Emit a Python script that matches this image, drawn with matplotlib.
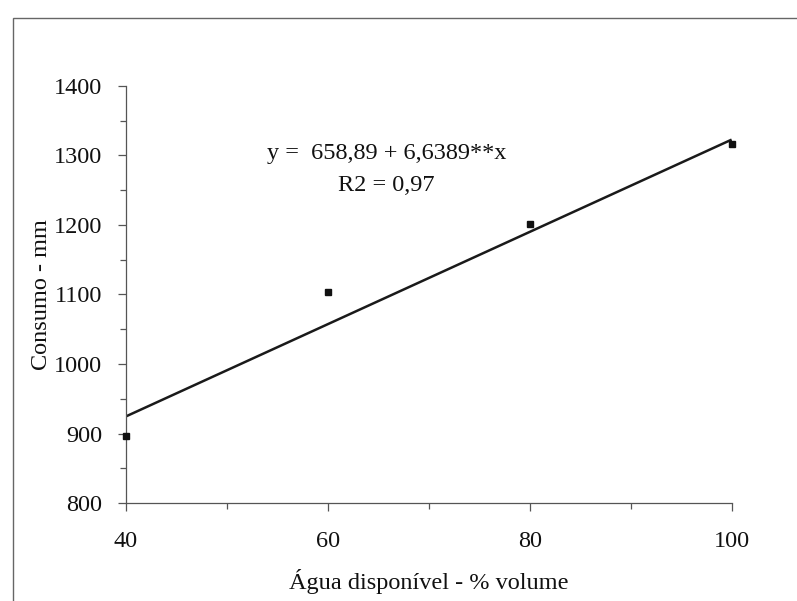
import matplotlib
matplotlib.use("Agg")
import matplotlib.pyplot as plt
from matplotlib.patches import Rectangle
from matplotlib.ticker import MultipleLocator

# dados
agua = [40, 60, 80, 100]
consumo = [896, 1104, 1201, 1316]
a, b = 658.89, 6.6389
x_fit = [40, 100]
y_fit = [a + b * v for v in x_fit]

plt.rcParams["font.family"] = ["Liberation Serif", "DejaVu Serif"]

fig = plt.figure(figsize=(7.97, 6.01), dpi=100)
ax = fig.add_axes([0.1577, 0.163, 0.918 - 0.1577, 0.857 - 0.163])

ax.plot(x_fit, y_fit, color="#1a1a1a", lw=1.8, solid_capstyle="butt")
ax.plot(agua, consumo, ls="none", marker="s", ms=5, color="#111111", clip_on=False, zorder=5)

ax.set_xlim(40, 100)
ax.set_ylim(800, 1400)
ax.xaxis.set_major_locator(MultipleLocator(20))
ax.xaxis.set_minor_locator(MultipleLocator(10))
ax.yaxis.set_major_locator(MultipleLocator(100))
ax.yaxis.set_minor_locator(MultipleLocator(50))

for s in ["top", "right"]:
    ax.spines[s].set_visible(False)
for s in ["left", "bottom"]:
    ax.spines[s].set_color("#555555")
    ax.spines[s].set_linewidth(0.9)

ax.tick_params(which="major", length=6, width=0.9, color="#555555", labelsize=17.5, labelcolor="#111111")
ax.tick_params(which="minor", length=4, width=0.9, color="#555555")
ax.tick_params(axis="x", which="major", pad=14)
ax.tick_params(axis="y", which="major", pad=11)

ax.set_xlabel("Água disponível - % volume", fontsize=17.5, color="#111111")
ax.set_ylabel("Consumo - mm", fontsize=17.5, color="#111111")
ax.xaxis.set_label_coords(0.5, -0.158)
ax.yaxis.set_label_coords(-0.122, 0.5)

ax.text(0.43, 0.837, "y =  658,89 + 6,6389**x", transform=ax.transAxes,
        ha="center", va="center", fontsize=17.5, color="#111111")
ax.text(0.43, 0.762, "R2 = 0,97", transform=ax.transAxes,
        ha="center", va="center", fontsize=17.5, color="#111111")

# moldura
fig.add_artist(Rectangle((0.016, -0.1), 1.2, 1.1 - 18 / 601, fill=False,
                         ec="#666666", lw=1.0, transform=fig.transFigure))

fig.savefig("out.png", dpi=100)
